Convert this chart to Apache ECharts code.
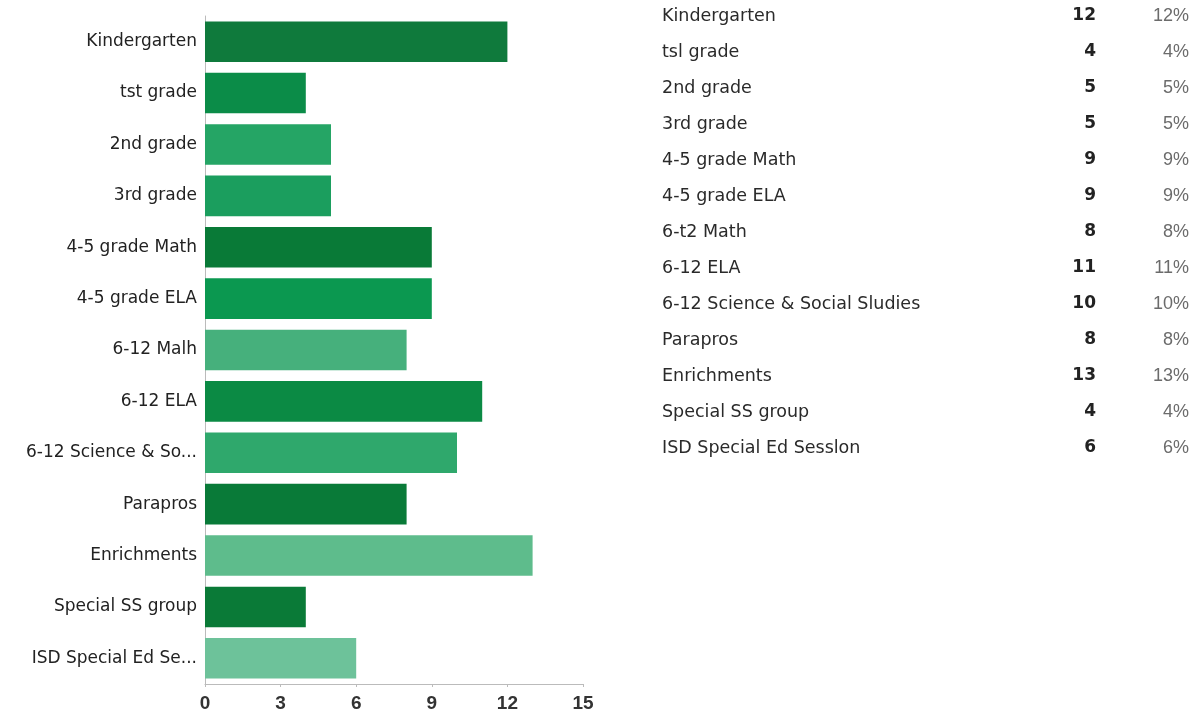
<!DOCTYPE html>
<html>
<head>
<meta charset="utf-8">
<script src="https://cdn.jsdelivr.net/npm/echarts@6/dist/echarts.min.js"></script>
<style>
html,body{margin:0;padding:0;background:#fff;}
#chart{width:1195px;height:715px;}
</style>
</head>
<body>
<div id="chart"></div>
<script>
// ---- data ----
var categories = ["Kindergarten","tst grade","2nd grade","3rd grade","4-5 grade Math","4-5 grade ELA","6-12 Malh","6-12 ELA","6-12 Science & So...","Parapros","Enrichments","Special SS group","ISD Special Ed Se..."];
var counts = [12,4,5,5,9,9,8,11,10,8,13,4,6];
var tableNames = ["Kindergarten","tsl grade","2nd grade","3rd grade","4-5 grade Math","4-5 grade ELA","6-t2 Math","6-12 ELA","6-12 Science & Social Sludies","Parapros","Enrichments","Special SS group","ISD Special Ed Sesslon"];
var tableCounts = [12,4,5,5,9,9,8,11,10,8,13,4,6];
var tablePercents = ["12%","4%","5%","5%","9%","9%","8%","11%","10%","8%","13%","4%","6%"];
var xTicks = [0,3,6,9,12,15];

// ---- styles ----
var barColors = ["#0f7a3c","#0b8c48","#25a565","#1b9e5e","#097a37","#0b9850","#46b07c","#0b8a44","#2fa86c","#097a38","#5ebc8c","#0a7a37","#6dc29a"];

var chart = echarts.init(document.getElementById('chart'));

var graphics = [];
var rowTop = 16, rowStep = 36;
for (var i = 0; i < tableNames.length; i++) {
  var y = rowTop + i * rowStep;
  graphics.push({type:'text', x:662, y:y, style:{text:tableNames[i], fill:'#2a2a2a', font:'17.5px "DejaVu Sans", sans-serif', align:'left', verticalAlign:'middle'}});
  graphics.push({type:'text', x:1096, y:y, style:{text:String(tableCounts[i]), fill:'#222', font:'bold 17px "DejaVu Sans", sans-serif', align:'right', verticalAlign:'middle'}});
  graphics.push({type:'text', x:1189, y:y, style:{text:tablePercents[i], fill:'#6b6b6b', font:'18px Arial, "Liberation Sans", sans-serif', align:'right', verticalAlign:'middle'}});
}

chart.setOption({
  animation:false,
  backgroundColor:'#fff',
  grid:{left:205, right:612, top:16, bottom:31, containLabel:false},
  xAxis:{
    type:'value', min:xTicks[0], max:xTicks[xTicks.length-1], interval:3,
    axisLine:{show:true, lineStyle:{color:'#bbb', width:1}},
    axisTick:{show:true, length:3, lineStyle:{color:'#bbb'}},
    splitLine:{show:false},
    axisLabel:{color:'#333', fontSize:19, fontWeight:'bold', fontFamily:'Arial, "Liberation Sans", sans-serif', margin:10}
  },
  yAxis:{
    type:'category', data:categories, inverse:true,
    axisLine:{show:true, lineStyle:{color:'#bbb', width:1}},
    axisTick:{show:false},
    axisLabel:{color:'#222', fontSize:17, fontFamily:'"DejaVu Sans", sans-serif', margin:8}
  },
  series:[{
    type:'bar',
    data:counts.map(function(v,i){return {value:v, itemStyle:{color:barColors[i]}};}),
    barCategoryGap:'21%'
  }],
  graphic:graphics
});
</script>
</body>
</html>
